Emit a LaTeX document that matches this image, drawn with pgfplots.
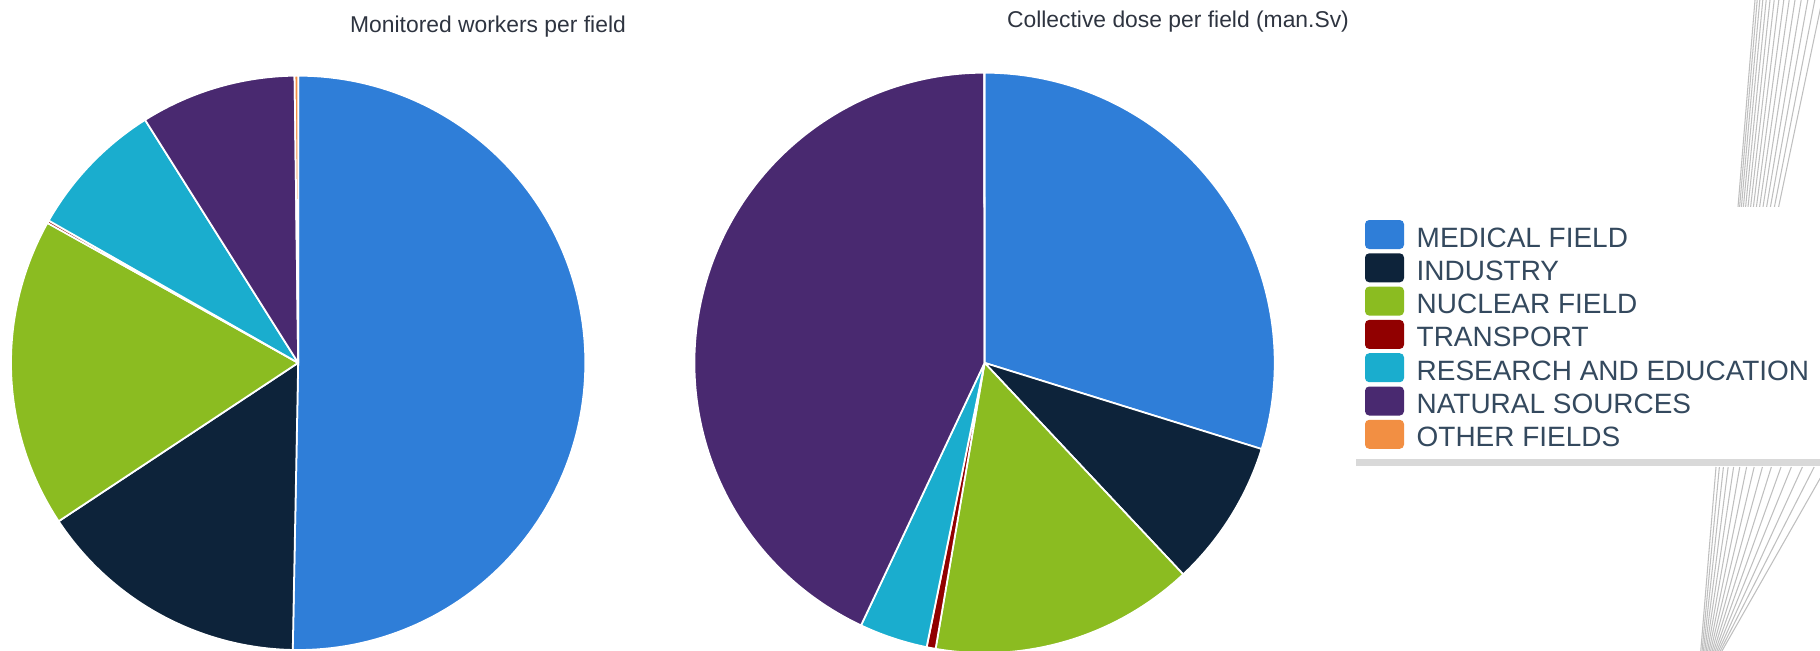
\documentclass[border=0pt]{standalone}
\usepackage{pgfplots}
\pgfplotsset{compat=1.18}
\usepackage{pgfplotstable}
\usepackage{fontspec}
\setmainfont{Liberation Sans}

\definecolor{cMed}{HTML}{2F7ED8}
\definecolor{cInd}{HTML}{0D233A}
\definecolor{cNuc}{HTML}{8BBC21}
\definecolor{cTra}{HTML}{910000}
\definecolor{cRes}{HTML}{1AADCE}
\definecolor{cNat}{HTML}{492970}
\definecolor{cOth}{HTML}{F28F43}
\definecolor{legtext}{HTML}{34495E}
\definecolor{titletext}{HTML}{2E3440}

% share of each field, percent
\pgfplotstableread{
share colour
50.3 cMed
15.4 cInd
17.4 cNuc
0.15 cTra
7.8 cRes
8.75 cNat
0.2 cOth
}\workers

\pgfplotstableread{
share colour
29.8 cMed
8.2 cInd
14.7 cNuc
0.5 cTra
3.8 cRes
42.98 cNat
0.02 cOth
}\dose

\newcommand\drawpie[1]{%
  \pgfplotstablegetrowsof{#1}%
  \pgfmathtruncatemacro\nrows{\pgfplotsretval-1}%
  \gdef\cum{0}%
  \pgfplotsforeachungrouped \i in {0,...,\nrows}{%
    \pgfplotstablegetelem{\i}{share}\of{#1}\let\sliceval\pgfplotsretval
    \pgfplotstablegetelem{\i}{colour}\of{#1}\let\slicecol\pgfplotsretval
    \pgfmathsetmacro\startang{90-3.6*\cum}%
    \pgfmathsetmacro\endang{90-3.6*(\cum+\sliceval)}%
    \pgfmathsetmacro\cum{\cum+\sliceval}%
    \edef\temp{\noexpand\addplot[fill=\slicecol, draw=white, line width=0.5pt,
      line join=round, domain=\endang:\startang, samples=120,
      variable=\noexpand\t]
      ({cos(\noexpand\t)},{sin(\noexpand\t)}) -- (axis cs:0,0) -- cycle;}%
    \temp
  }%
}

\pgfplotsset{pie/.style={hide axis, scale only axis, anchor=center,
  xmin=-1, xmax=1, ymin=-1, ymax=1, clip=false}}

\begin{document}
\begin{tikzpicture}[x=0.01cm, y=0.01cm]
\useasboundingbox (0,0) rectangle (1820,650);
\clip (0,0) rectangle (1820,650);

% decorative background lines
\foreach \k in {0,...,14}{
  \draw[gray!50, line width=0.3pt] ({1700+1.2*\k},-10) -- ({1716+3*\k+0.35*\k*\k},183);
}
\foreach \k in {0,...,14}{
  \draw[gray!50, line width=0.3pt] ({1738+1.5*\k+0.1*\k*\k},443) -- ({1755+2*\k+0.2*\k*\k},650);
}

\begin{axis}[pie, at={(2.98cm,2.87cm)}, width=5.74cm, height=5.74cm]
\drawpie{\workers}
\end{axis}

\begin{axis}[pie, at={(9.84cm,2.87cm)}, width=5.80cm, height=5.80cm]
\drawpie{\dose}
\end{axis}

% titles
\node[anchor=base, font=\fontsize{6.5pt}{7.5pt}\selectfont, text=titletext, inner sep=0pt]
  at (488,650-32) {Monitored workers per field};
\node[anchor=base, font=\fontsize{6.5pt}{7.5pt}\selectfont, text=titletext, inner sep=0pt]
  at (1178,650-27) {Collective dose per field (man.Sv)};

% legend
\fill[white] (1356,650-207) rectangle (1820,650-462);
\fill[gray!30] (1356,650-459) rectangle (1820,650-466);
\foreach \name/\col [count=\k from 0] in {MEDICAL FIELD/cMed, INDUSTRY/cInd,
  NUCLEAR FIELD/cNuc, TRANSPORT/cTra, RESEARCH AND EDUCATION/cRes,
  NATURAL SOURCES/cNat, OTHER FIELDS/cOth}{
  \fill[\col, rounded corners=1.2pt] (1365,650-220-33.3*\k) rectangle (1404,650-249-33.3*\k);
  \node[anchor=base west, inner sep=0pt, text=legtext,
    font=\fontsize{7.95pt}{9pt}\selectfont] at (1416,650-247-33.3*\k) {\name};
}
\end{tikzpicture}
\end{document}
